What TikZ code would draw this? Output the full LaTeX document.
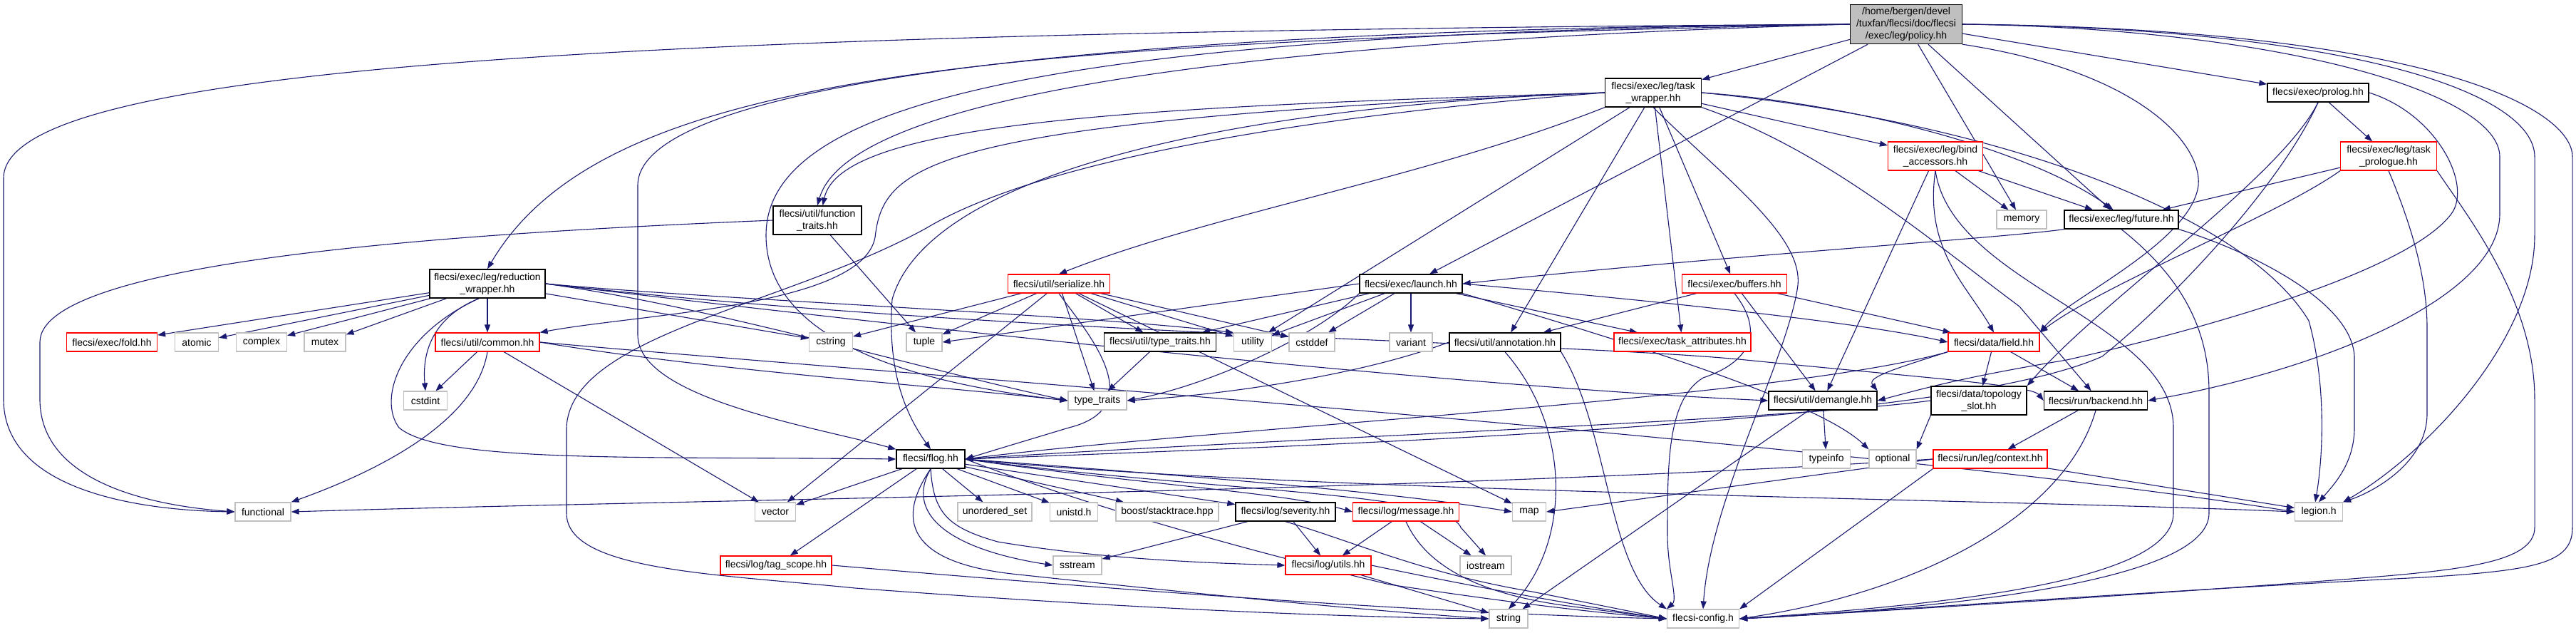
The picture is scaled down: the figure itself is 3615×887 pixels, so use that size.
\documentclass[tikz,border=0pt]{standalone}
\usepackage{fontspec}
\setmainfont{Liberation Sans}
\usetikzlibrary{arrows.meta}
\definecolor{edgec}{HTML}{191970}
\definecolor{grayb}{HTML}{BFBFBF}
\definecolor{polfill}{HTML}{BFBFBF}
\pgfdeclarelayer{bgfill}
\pgfdeclarelayer{edges}
\pgfsetlayers{bgfill,edges,main}
\tikzset{
  nd/.style={rectangle, inner sep=0pt, fill=white, font=\fontsize{14}{17}\selectfont, align=center, minimum height=26pt},
  blk/.style={nd, draw=black, line width=1.4pt},
  rnd/.style={nd, draw=red, line width=1.2pt},
  gnd/.style={nd, draw=grayb, line width=1.2pt},
  e/.style={draw=edgec, line width=1.1pt, -{Triangle[length=11pt,width=8pt]}},
}
\begin{document}
\begin{tikzpicture}[x=1pt,y=-1pt]
\useasboundingbox (0,0) rectangle (3615,887);
\begin{pgfonlayer}{bgfill}
\fill[white] (0,0) rectangle (3615,887);
\end{pgfonlayer}
% row 1
\node[blk, fill=polfill, minimum width=157pt, minimum height=55pt] (P) at (2675,34) {/home/bergen/devel\\/tuxfan/flecsi/doc/flecsi\\/exec/leg/policy.hh};
% row 2
\node[blk, minimum width=135pt, minimum height=40pt] (TW) at (2320,130) {flecsi/exec/leg/task\\\_wrapper.hh};
\node[blk, minimum width=142pt] (PR) at (3253,130) {flecsi/exec/prolog.hh};
% row 3
\node[rnd, minimum width=133pt, minimum height=40pt] (BA) at (2716,219) {flecsi/exec/leg/bind\\\_accessors.hh};
\node[rnd, minimum width=135pt, minimum height=40pt] (TP) at (3352,219) {flecsi/exec/leg/task\\\_prologue.hh};
% row 4
\node[blk, minimum width=124pt, minimum height=40pt] (FT) at (1147,309) {flecsi/util/function\\\_traits.hh};
\node[gnd, minimum width=70pt] (MEM) at (2837,308) {memory};
\node[blk, minimum width=160pt] (FUT) at (2977,308) {flecsi/exec/leg/future.hh};
% row 5
\node[blk, minimum width=162pt, minimum height=40pt] (RW) at (684,398) {flecsi/exec/leg/reduction\\\_wrapper.hh};
\node[rnd, minimum width=143pt] (SER) at (1486,398) {flecsi/util/serialize.hh};
\node[blk, minimum width=144pt] (LA) at (1980,398) {flecsi/exec/launch.hh};
\node[rnd, minimum width=147pt] (BUF) at (2434,398) {flecsi/exec/buffers.hh};
% row 6
\node[rnd, minimum width=127pt] (FOLD) at (157,480) {flecsi/exec/fold.hh};
\node[gnd, minimum width=61pt] (ATOM) at (276,480) {atomic};
\node[gnd, minimum width=71pt] (CPLX) at (367,480) {complex};
\node[gnd, minimum width=58pt] (MUT) at (456,480) {mutex};
\node[rnd, minimum width=146pt] (COM) at (684,480) {flecsi/util/common.hh};
\node[gnd, minimum width=61pt] (CSTR) at (1166,480) {cstring};
\node[gnd, minimum width=50pt] (TUP) at (1297,480) {tuple};
\node[blk, minimum width=157pt] (UTT) at (1628,480) {flecsi/util/type\_traits.hh};
\node[gnd, minimum width=53pt] (UTIL) at (1758,480) {utility};
\node[gnd, minimum width=64pt] (CDEF) at (1841,480) {cstddef};
\node[gnd, minimum width=60pt] (VAR) at (1980,480) {variant};
\node[blk, minimum width=156pt] (ANN) at (2112,480) {flecsi/util/annotation.hh};
\node[rnd, minimum width=192pt] (TA) at (2361,480) {flecsi/exec/task\_attributes.hh};
\node[rnd, minimum width=128pt] (FLD) at (2798,480) {flecsi/data/field.hh};
% row 7
\node[gnd, minimum width=61pt] (CINT) at (597,562) {cstdint};
\node[gnd, minimum width=82pt] (TT) at (1540,562) {type\_traits};
\node[blk, minimum width=152pt] (DEM) at (2558,562) {flecsi/util/demangle.hh};
\node[blk, minimum width=134pt, minimum height=40pt] (TS) at (2777,562) {flecsi/data/topology\\\_slot.hh};
\node[blk, minimum width=145pt] (BE) at (2941,562) {flecsi/run/backend.hh};
% row 8
\node[blk, minimum width=96pt] (FLOG) at (1306,644) {flecsi/flog.hh};
\node[gnd, minimum width=67pt] (TI) at (2563,644) {typeinfo};
\node[gnd, minimum width=66pt] (OPT) at (2656,644) {optional};
\node[rnd, minimum width=160pt] (CTX) at (2793,644) {flecsi/run/leg/context.hh};
% row 9
\node[gnd, minimum width=78pt] (FUNC) at (369,718) {functional};
\node[gnd, minimum width=57pt] (VEC) at (1088,718) {vector};
\node[gnd, minimum width=104pt] (US) at (1396,718) {unordered\_set};
\node[gnd, minimum width=67pt] (UNI) at (1507,718) {unistd.h};
\node[gnd, minimum width=144pt] (BST) at (1638,718) {boost/stacktrace.hpp};
\node[blk, minimum width=140pt] (SEV) at (1804,718) {flecsi/log/severity.hh};
\node[rnd, minimum width=149pt] (MSG) at (1973,718) {flecsi/log/message.hh};
\node[gnd, minimum width=47pt] (MAP) at (2146,718) {map};
\node[gnd, minimum width=67pt] (LEG) at (3254,718) {legion.h};
% row 10
\node[rnd, minimum width=156pt] (TAG) at (1089,793) {flecsi/log/tag\_scope.hh};
\node[gnd, minimum width=68pt] (SS) at (1512,793) {sstream};
\node[rnd, minimum width=120pt] (UTILS) at (1864,793) {flecsi/log/utils.hh};
\node[gnd, minimum width=72pt] (IOS) at (2085,793) {iostream};
% row 11
\node[gnd, minimum width=54pt] (STR) at (2117,868) {string};
\node[gnd, minimum width=101pt] (CFG) at (2390,868) {flecsi-config.h};

\begin{pgfonlayer}{edges}
% policy
\draw[e] (P) -- (TW);
\draw[e] (P) -- (LA);
\draw[e] (P) -- (PR);
\draw[e] (P) -- (MEM);
\draw[e] (P) -- (FUT);
\draw[e] (P.west) .. controls (1400,60) and (850,95) .. (RW.north);
\draw[e] (P.west) .. controls (900,45) and (5,90) .. (5,250) -- (5,560) .. controls (5,690) and (200,716) .. (FUNC.west);
\draw[e] (P.west) .. controls (1700,60) and (1190,140) .. (FT.north);
\draw[e] (P.west) .. controls (1600,40) and (895,110) .. (895,260) -- (895,470) .. controls (895,560) and (1150,600) .. (FLOG.north west);
\draw[e] (P.west) .. controls (1400,45) and (1075,160) .. (1075,330) .. controls (1075,500) and (1350,545) .. (TT.west);
\draw[e] (P.south east) .. controls (3000,100) and (3090,200) .. (3085,260) .. controls (3075,340) and (2900,420) .. (FLD.north east);
\draw[e] (P.east) .. controls (3200,40) and (3508,130) .. (3508,220) -- (3508,300) .. controls (3508,420) and (3250,520) .. (BE.east);
\draw[e] (P.east) .. controls (3300,40) and (3557,130) .. (3557,220) -- (3557,330) .. controls (3557,480) and (3400,640) .. (LEG.north east);
\draw[e] (P.east) .. controls (3400,40) and (3610,150) .. (3610,220) -- (3610,740) .. controls (3610,790) and (3560,800) .. (3400,810) .. controls (3000,830) and (2600,860) .. (CFG.east);
% task_wrapper
\draw[e] (TW) -- (BA);
\draw[e] (TW.east) .. controls (2600,145) and (2850,210) .. (FUT.130);
\draw[e] (TW) -- (BUF);
\draw[e] (TW.south west) .. controls (2000,250) and (1700,300) .. (SER.north);
\draw[e] (TW.west) .. controls (1600,150) and (1180,170) .. (FT.70);
\draw[e] (TW.west) .. controls (1300,170) and (1240,230) .. (1228,333) .. controls (1210,430) and (900,440) .. (COM.north east);
\draw[e] (TW) -- (ANN);
\draw[e] (TW) -- (TA);
\draw[e] (TW) -- (UTIL);
\draw[e] (TW.south) .. controls (2420,250) and (2530,330) .. (2523,400) .. controls (2510,500) and (2400,700) .. (CFG.north);
\draw[e] (TW.east) .. controls (2800,170) and (3150,300) .. (3240,450) .. controls (3265,540) and (3260,640) .. (LEG.110);
\draw[e] (TW.south east) .. controls (2560,210) and (2700,330) .. (2834,430) -- (BE.115);
\draw[e] (TW.west) .. controls (1800,165) and (1450,230) .. (1300,320) .. controls (1100,430) and (800,470) .. (795,600) -- (795,720) .. controls (795,800) and (1000,805) .. (1200,825) .. controls (1600,855) and (1900,866) .. (STR.west);
\draw[e] (TW.west) .. controls (1700,150) and (1300,250) .. (1252,420) .. controls (1245,520) and (1270,580) .. (FLOG.north);
% prolog
\draw[e] (PR) -- (TP);
\draw[e] (PR.south) .. controls (3200,250) and (2950,420) .. (TS.north east);
\draw[e] (PR.south) .. controls (3200,260) and (3050,420) .. (2950,500) .. controls (2750,590) and (2000,620) .. (FLOG.east);
\draw[e] (PR.east) .. controls (3420,160) and (3470,260) .. (3440,300) .. controls (3380,380) and (3100,460) .. (2900,505) .. controls (2750,530) and (2700,545) .. (DEM.east);
% task_prologue
\draw[e] (TP) -- (FUT);
\draw[e] (TP.south west) .. controls (3200,300) and (2950,400) .. (FLD.north east);
\draw[e] (TP.south) .. controls (3390,330) and (3406,400) .. (3406,460) -- (3406,580) .. controls (3406,650) and (3330,690) .. (LEG.north east);
\draw[e] (TP.south east) .. controls (3460,300) and (3557,420) .. (3557,560) -- (3557,740) .. controls (3557,790) and (3450,800) .. (3300,812) .. controls (3000,835) and (2600,860) .. (CFG.east);
% bind_accessors
\draw[e] (BA) -- (MEM);
\draw[e] (BA) -- (FUT);
\draw[e] (BA) -- (DEM);
\draw[e] (BA.south) .. controls (2700,350) and (2760,400) .. (FLD.north);
\draw[e] (BA.south) .. controls (2740,400) and (3050,450) .. (3050,600) -- (3050,720) .. controls (3050,820) and (2700,850) .. (CFG.east);
% future
\draw[e] (FUT.south west) .. controls (2800,335) and (2400,360) .. (LA.east);
\draw[e] (FUT.south east) .. controls (3150,350) and (3300,420) .. (3304,500) -- (3304,600) .. controls (3304,650) and (3275,680) .. (LEG.north);
\draw[e] (FUT.south) .. controls (3050,380) and (3100,450) .. (3100,550) -- (3100,720) .. controls (3100,820) and (2700,855) .. (CFG.east);
% function_traits
\draw[e] (FT) -- (TUP);
\draw[e] (FT.west) .. controls (700,325) and (56,360) .. (56,480) -- (56,560) .. controls (56,690) and (250,712) .. (FUNC.west);
% reduction_wrapper
\draw[e] (RW) -- (FOLD);
\draw[e] (RW) -- (ATOM);
\draw[e] (RW) -- (CPLX);
\draw[e] (RW) -- (MUT);
\draw[e] (RW) -- (COM);
\draw[e] (RW.240) .. controls (620,440) and (591,480) .. (CINT.north);
\draw[e] (RW.240) .. controls (560,470) and (530,560) .. (560,600) .. controls (620,650) and (900,640) .. (FLOG.west);
\draw[e] (RW) -- (CSTR);
\draw[e] (RW.east) .. controls (1000,430) and (1300,520) .. (TT.west);
\draw[e] (RW.east) .. controls (1200,450) and (2000,540) .. (DEM.west);
\draw[e] (RW.east) .. controls (1000,420) and (1500,440) .. (UTIL.north west);
\draw[e] (RW.east) .. controls (1400,470) and (2200,480) .. (2450,505) .. controls (2700,530) and (2850,540) .. (BE.west);
% serialize
\draw[e] (SER) -- (CSTR);
\draw[e] (SER) -- (TUP);
\draw[e] (SER) -- (UTT);
\draw[e] (SER) -- (UTIL);
\draw[e] (SER) -- (CDEF);
\draw[e] (SER) -- (TT);
\draw[e] (SER) -- (VEC);
\draw[e] (SER.south) .. controls (1520,460) and (1620,570) .. (1500,600) .. controls (1450,615) and (1400,630) .. (FLOG.east);
\draw[e] (SER) -- (MAP);
% launch
\draw[e] (LA.west) -- (TUP.east);
\draw[e] (LA) -- (UTT);
\draw[e] (LA) -- (UTIL);
\draw[e] (LA) -- (CDEF);
\draw[e] (LA) -- (VAR);
\draw[e] (LA) -- (TA);
\draw[e] (LA.east) .. controls (2300,420) and (2600,450) .. (FLD.west);
\draw[e] (LA.south west) .. controls (1850,470) and (1700,540) .. (TT.east);
\draw[e] (LA.south east) .. controls (2250,470) and (2550,560) .. (OPT.north west);
% buffers
\draw[e] (BUF) -- (ANN);
\draw[e] (BUF) -- (FLD);
\draw[e] (BUF) -- (DEM);
\draw[e] (BUF.south) .. controls (2480,470) and (2450,510) .. (2390,530) .. controls (2340,560) and (2340,650) .. (2340,750) .. controls (2340,800) and (2355,840) .. (CFG.north west);
% annotation
\draw[e] (ANN.west) .. controls (1900,530) and (1700,555) .. (TT.east);
\draw[e] (ANN.south) .. controls (2205,600) and (2205,760) .. (STR.north);
\draw[e] (ANN.south east) .. controls (2257,600) and (2257,800) .. (CFG.north west);
% util/type_traits
\draw[e] (UTT) -- (TT);
% common
\draw[e] (COM) -- (CINT);
\draw[e] (COM.south) .. controls (670,580) and (560,650) .. (FUNC.north east);
\draw[e] (COM) -- (VEC);
\draw[e] (COM.east) .. controls (1000,520) and (1300,540) .. (TT.west);
\draw[e] (COM.east) .. controls (1200,520) and (2600,620) .. (LEG.west);
% field
\draw[e] (FLD) -- (TS);
\draw[e] (FLD) -- (BE);
\draw[e] (FLD.south west) .. controls (2650,520) and (2620,530) .. (DEM.north east);
\draw[e] (FLD.south west) .. controls (2500,560) and (1700,600) .. (FLOG.east);
% topology_slot
\draw[e] (TS.west) .. controls (2500,590) and (1700,620) .. (FLOG.east);
\draw[e] (TS.south west) -- (OPT.north east);
% backend
\draw[e] (BE) -- (CTX);
\draw[e] (BE.south) .. controls (2900,720) and (2700,830) .. (CFG.east);
% context
\draw[e] (CTX.west) -- (MAP.east);
\draw[e] (CTX) -- (LEG);
\draw[e] (CTX.south west) -- (CFG.north east);
\draw[e] (CTX.west) .. controls (2000,690) and (1000,700) .. (FUNC.east);
% demangle
\draw[e] (DEM) -- (TI);
\draw[e] (DEM) -- (STR);
% flog
\draw[e] (FLOG) -- (VEC);
\draw[e] (FLOG) -- (TAG);
\draw[e] (FLOG.south) .. controls (1270,720) and (1330,770) .. (SS.west);
\draw[e] (FLOG) -- (US);
\draw[e] (FLOG) -- (UNI);
\draw[e] (FLOG) -- (BST);
\draw[e] (FLOG) -- (SEV);
\draw[e] (FLOG.south) .. controls (1310,720) and (1330,740) .. (1400,760) .. controls (1550,785) and (1700,790) .. (UTILS.west);
\draw[e] (FLOG.east) .. controls (1600,680) and (1800,690) .. (MSG.west);
\draw[e] (FLOG.east) .. controls (1700,670) and (1950,690) .. (MAP.west);
\draw[e] (FLOG.east) .. controls (1700,690) and (2030,690) .. (2050,740) -- (IOS.north);
\draw[e] (FLOG.south) .. controls (1250,740) and (1290,790) .. (1420,805) .. controls (1700,835) and (1900,855) .. (STR.west);
\draw[e] (FLOG.east) .. controls (1500,700) and (1700,760) .. (1950,820) .. controls (2150,850) and (2250,860) .. (CFG.west);
\draw[e] (FLOG.east) .. controls (1800,690) and (2800,700) .. (LEG.west);
% severity
\draw[e] (SEV) -- (SS);
\draw[e] (SEV) -- (UTILS);
\draw[e] (SEV.south) .. controls (1900,760) and (2000,805) .. (2150,830) .. controls (2250,850) and (2300,860) .. (CFG.west);
% message
\draw[e] (MSG) -- (UTILS);
\draw[e] (MSG) -- (IOS);
\draw[e] (MSG.south) .. controls (1995,780) and (2050,830) .. (2200,850) -- (CFG.west);
% utils
\draw[e] (UTILS) -- (STR);
\draw[e] (UTILS.east) .. controls (2100,830) and (2250,855) .. (CFG.west);
% tag_scope
\draw[e] (TAG.east) .. controls (1600,830) and (2000,860) .. (CFG.west);
\end{pgfonlayer}
\end{tikzpicture}
\end{document}
